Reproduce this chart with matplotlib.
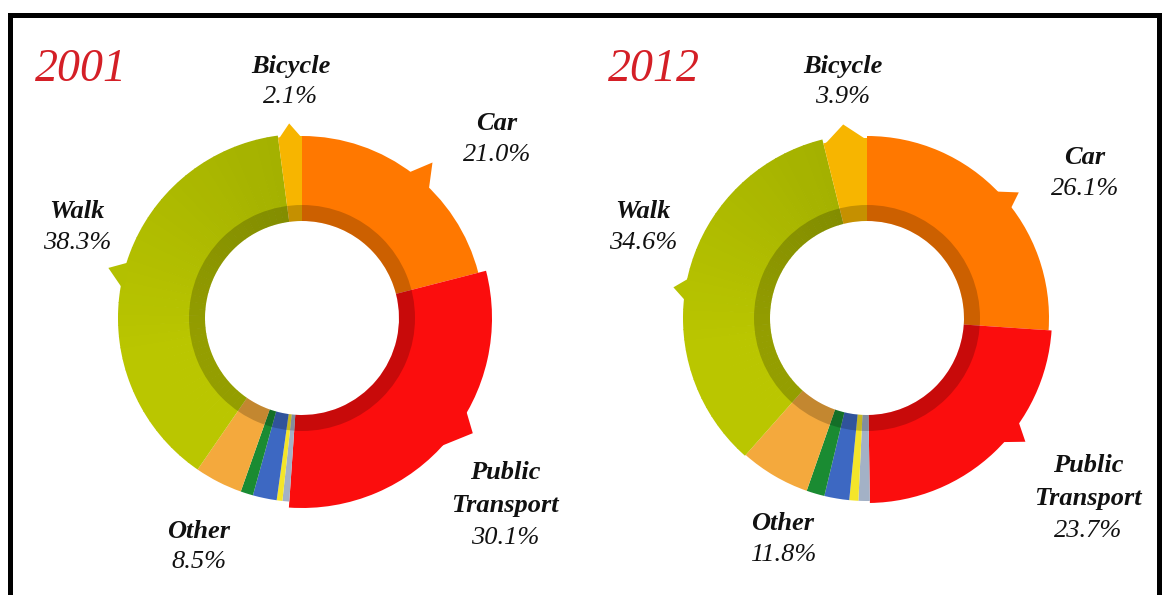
import numpy as np
import matplotlib
matplotlib.use('Agg')
import matplotlib.pyplot as plt
from matplotlib.patches import Wedge, Polygon
from matplotlib.colors import to_rgb

# mode shares (%), clockwise from 12 o'clock
modes = ['Car', 'Public\nTransport', 'Other', 'Walk', 'Bicycle']
share_2001 = [21.0, 30.1, 8.5, 38.3, 2.1]
share_2012 = [26.1, 23.7, 11.8, 34.6, 3.9]

# the "Other" slice is split into small coloured parts
other_parts = ['grey', 'yellow', 'blue', 'green', 'orange']
other_2001 = [0.6, 0.5, 2.1, 1.1, 4.2]
other_2012 = [1.0, 0.8, 2.2, 1.6, 6.2]

years = ['2001', '2012']

colors = {
    'Car': '#ff7800', 'Public\nTransport': '#fb0d0d', 'Walk': '#bac600',
    'Bicycle': '#f7b500', 'grey': '#a3b1c6', 'yellow': '#f4e52a',
    'blue': '#3d68c2', 'green': '#1a8b32', 'orange': '#f4a93d',
}
walk_dark = '#a4b100'

SERIF = 'Liberation Serif'


def pt(cx, cy, r, a):
    # a: degrees clockwise from 12 o'clock, image coords (y down)
    t = np.radians(a)
    return cx + r * np.sin(t), cy - r * np.cos(t)


def walk_shade(f):
    # f = 0 at start of walk slice, 1 at its end; darker towards the top
    c0, c1 = np.array(to_rgb(colors['Walk'])), np.array(to_rgb(walk_dark))
    return c0 + (c1 - c0) * max(0.0, f - 0.3) / 0.7


def draw_donut(ax, cx, cy, shares, others, radii, pointers, bike_tip):
    names, vals = [], []
    for m, v in zip(modes, shares):
        if m == 'Other':
            names += other_parts
            vals += others
        else:
            names.append(m)
            vals.append(v)
    vals = np.array(vals, dtype=float)
    ends = np.cumsum(vals) / vals.sum() * 360
    starts = ends - vals / vals.sum() * 360
    r_in = 97
    spans = {}
    for n, a0, a1 in zip(names, starts, ends):
        r_out = radii.get(n, radii['default'])
        if n == 'Walk':
            edges = np.linspace(a0, a1, 40)
            for k in range(len(edges) - 1):
                c = walk_shade(k / (len(edges) - 2))
                top = edges[k + 1] - 90 + (0.3 if k < len(edges) - 2 else 0)
                ax.add_patch(Wedge((cx, cy), r_out, edges[k] - 90, top,
                                   width=r_out - r_in, facecolor=c, edgecolor='none'))
        else:
            ax.add_patch(Wedge((cx, cy), r_out, a0 - 90, a1 - 90, width=r_out - r_in,
                               facecolor=colors[n], edgecolor='none'))
        spans[n] = (a0, a1, r_out)
    # darker inner band
    ax.add_patch(Wedge((cx, cy), 113, 0, 360, width=16, facecolor='black',
                       alpha=0.2, edgecolor='none'))
    # callout pointers on the outer edge
    for n, (b0, tip_a, b1, tip_r) in pointers.items():
        a0, a1, r_out = spans[n]
        c = colors[n]
        if n == 'Walk':
            c = walk_shade((tip_a - a0) / (a1 - a0))
        poly = [pt(cx, cy, r_out - 3, b0), pt(cx, cy, tip_r, tip_a), pt(cx, cy, r_out - 3, b1)]
        ax.add_patch(Polygon(poly, closed=True, facecolor=c, edgecolor='none'))
    # pointed top on the bicycle slice
    a0, a1, r_out = spans['Bicycle']
    poly = [pt(cx, cy, r_out - 2, a0), pt(cx, cy, bike_tip, (a0 + a1) / 2),
            pt(cx, cy, r_out - 2, a1)]
    ax.add_patch(Polygon(poly, closed=True, facecolor=colors['Bicycle'], edgecolor='none'))


fig = plt.figure(figsize=(11.66, 5.95), dpi=100)
ax = fig.add_axes([0, 0, 1, 1])
ax.set_xlim(0, 1166)
ax.set_ylim(595, 0)
ax.axis('off')

draw_donut(ax, 302, 318, share_2001, other_2001,
           {'Car': 182, 'Public\nTransport': 190, 'Walk': 184, 'Bicycle': 182, 'default': 184},
           {'Car': (36, 40, 45, 203), 'Walk': (279, 284.5, 288, 200),
            'Public\nTransport': (119, 124, 134, 206)}, 195)
draw_donut(ax, 867, 318, share_2012, other_2012,
           {'Car': 182, 'Public\nTransport': 185, 'Walk': 184, 'Bicycle': 180, 'default': 183},
           {'Car': (45, 50.4, 53, 197), 'Walk': (275, 279, 283, 196),
            'Public\nTransport': (124, 128, 133, 201)}, 195)

# label positions (name centre, image pixels)
label_pos = {
    '2001': {'Car': (497, 124), 'Public\nTransport': (505, 489), 'Other': (199, 531),
             'Walk': (77, 212), 'Bicycle': (291, 66)},
    '2012': {'Car': (1085, 158), 'Public\nTransport': (1088, 482), 'Other': (783, 524),
             'Walk': (643, 212), 'Bicycle': (843, 66)},
}
title_pos = {'2001': (35, 70), '2012': (608, 70)}

for yr, shares in zip(years, [share_2001, share_2012]):
    ax.text(*title_pos[yr], yr, color='#d41f26', fontsize=33, family=SERIF,
            style='italic', ha='left', va='center')
    for m, v in zip(modes, shares):
        x, y = label_pos[yr][m]
        ax.text(x, y, m, fontsize=19, family=SERIF, style='italic', weight='bold',
                ha='center', va='center', linespacing=1.6, color='#111111')
        dy = 49 if '\n' in m else 31
        ax.text(x, y + dy, f'{v:.1f}%', fontsize=19, family=SERIF, style='italic',
                ha='center', va='center', color='#111111')

# black frame (open at the bottom)
ax.plot([9.5, 9.5, 1158.5, 1158.5], [600, 15, 15, 600], color='black', lw=3.6,
        solid_joinstyle='miter', clip_on=False)

fig.savefig('out.png', dpi=100)
